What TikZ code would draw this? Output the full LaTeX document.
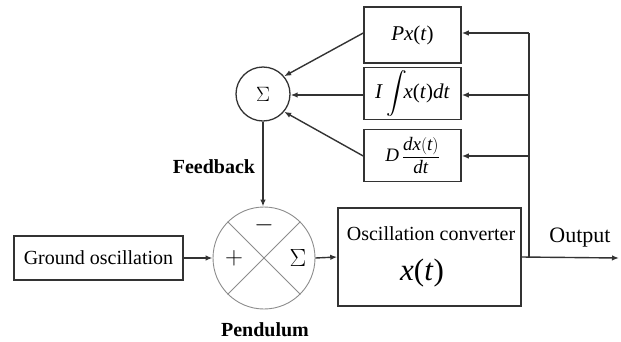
\documentclass[tikz,border=0pt]{standalone}
\usepackage{amsmath}
\usepackage{fontspec}
\setmainfont{Liberation Serif}
\usetikzlibrary{arrows.meta}
\begin{document}
\begin{tikzpicture}[x=1pt,y=-1pt,
  >={Latex[length=7pt,width=5.5pt]},
  blk/.style={draw=black!80, line width=1.5pt, inner sep=0pt, align=center},
  ln/.style={draw=black!80, line width=1.4pt},
  txt/.style={font=\fontsize{20}{23}\selectfont, inner sep=0pt},
  lbl/.style={font=\fontsize{20}{23}\selectfont\bfseries, inner sep=0pt}]
\useasboundingbox (0,0) rectangle (621,341);

% feedback blocks
\node[blk, minimum width=97pt, minimum height=56pt, font=\fontsize{21}{24}\selectfont] (P) at (412.5,35) {\textit{Px}(\textit{t})};
\node[blk, minimum width=97pt, minimum height=52pt, font=\fontsize{21}{24}\selectfont] (I) at (412.5,93.5) {\textit{I}\,$\displaystyle\int\!$\textit{x}(\textit{t})\textit{dt}};
\node[blk, minimum width=97pt, minimum height=52pt, font=\fontsize{19}{22}\selectfont] (D) at (412.5,155.5) {\textit{D}$\,\dfrac{\textit{dx}(\textit{t})}{\textit{dt}}$};

% summing circle
\node[draw=black!80, line width=1.3pt, circle, minimum size=54pt, inner sep=0pt, font=\fontsize{21}{24}\selectfont] (S) at (263,94) {$\Sigma$};

% pendulum
\node[draw=black!45, line width=0.9pt, circle, minimum size=102pt, inner sep=0pt] (Pend) at (264,258) {};
\draw[black!45, line width=0.9pt] (Pend.45) -- (Pend.225) (Pend.135) -- (Pend.-45);
\node[font=\fontsize{26}{30}\selectfont, inner sep=0pt] (minus) at (264,225) {$-$};
\node[font=\fontsize{26}{30}\selectfont, inner sep=0pt] (plus) at (234,258) {$+$};
\node[font=\fontsize{24}{28}\selectfont, inner sep=0pt] (sig) at (298,258) {$\Sigma$};

% ground + converter
\node[blk, txt, minimum width=169pt, minimum height=44pt] (G) at (98.5,258) {Ground oscillation};
\node[blk, minimum width=183pt, minimum height=98pt] (C) at (429.5,257) {};
\node[txt] (Ct) at (431,234) {Oscillation converter};
\node[font=\fontsize{31}{34}\selectfont, inner sep=0pt] (Cx) at (422,273) {\textit{x}(\textit{t})};

% labels
\node[lbl] (fb) at (214,167) {Feedback};
\node[lbl, anchor=base] (pl) at (265,336) {Pendulum};
\node[txt, font=\fontsize{22}{25}\selectfont] (ol) at (580,238) {Output};

% coordinates
\coordinate (J) at (529,258);
\coordinate (Jt) at (529,33);
\coordinate (Ji) at (529,95);
\coordinate (Jd) at (529,156);
\coordinate (O) at (619,258);

% connectors
\draw[ln,->] (G.east) -- (Pend.west);
\draw[ln,->] (Pend.east) -- (C.west);
\draw[ln,->] (C.east) -- (O);
\draw[ln] (J) -- (Jt);
\draw[ln,->] (Jt) -- (P.east |- Jt);
\draw[ln,->] (Ji) -- (I.east |- Ji);
\draw[ln,->] (Jd) -- (D.east |- Jd);
\draw[ln,->] (P.west |- Jt) -- (S.40);
\draw[ln,->] (I.west |- Ji) -- (S.east |- Ji);
\draw[ln,->] (D.west |- Jd) -- (S.-40);
\draw[ln,->] (S.south) -- (S.south |- Pend.north);
\end{tikzpicture}
\end{document}
